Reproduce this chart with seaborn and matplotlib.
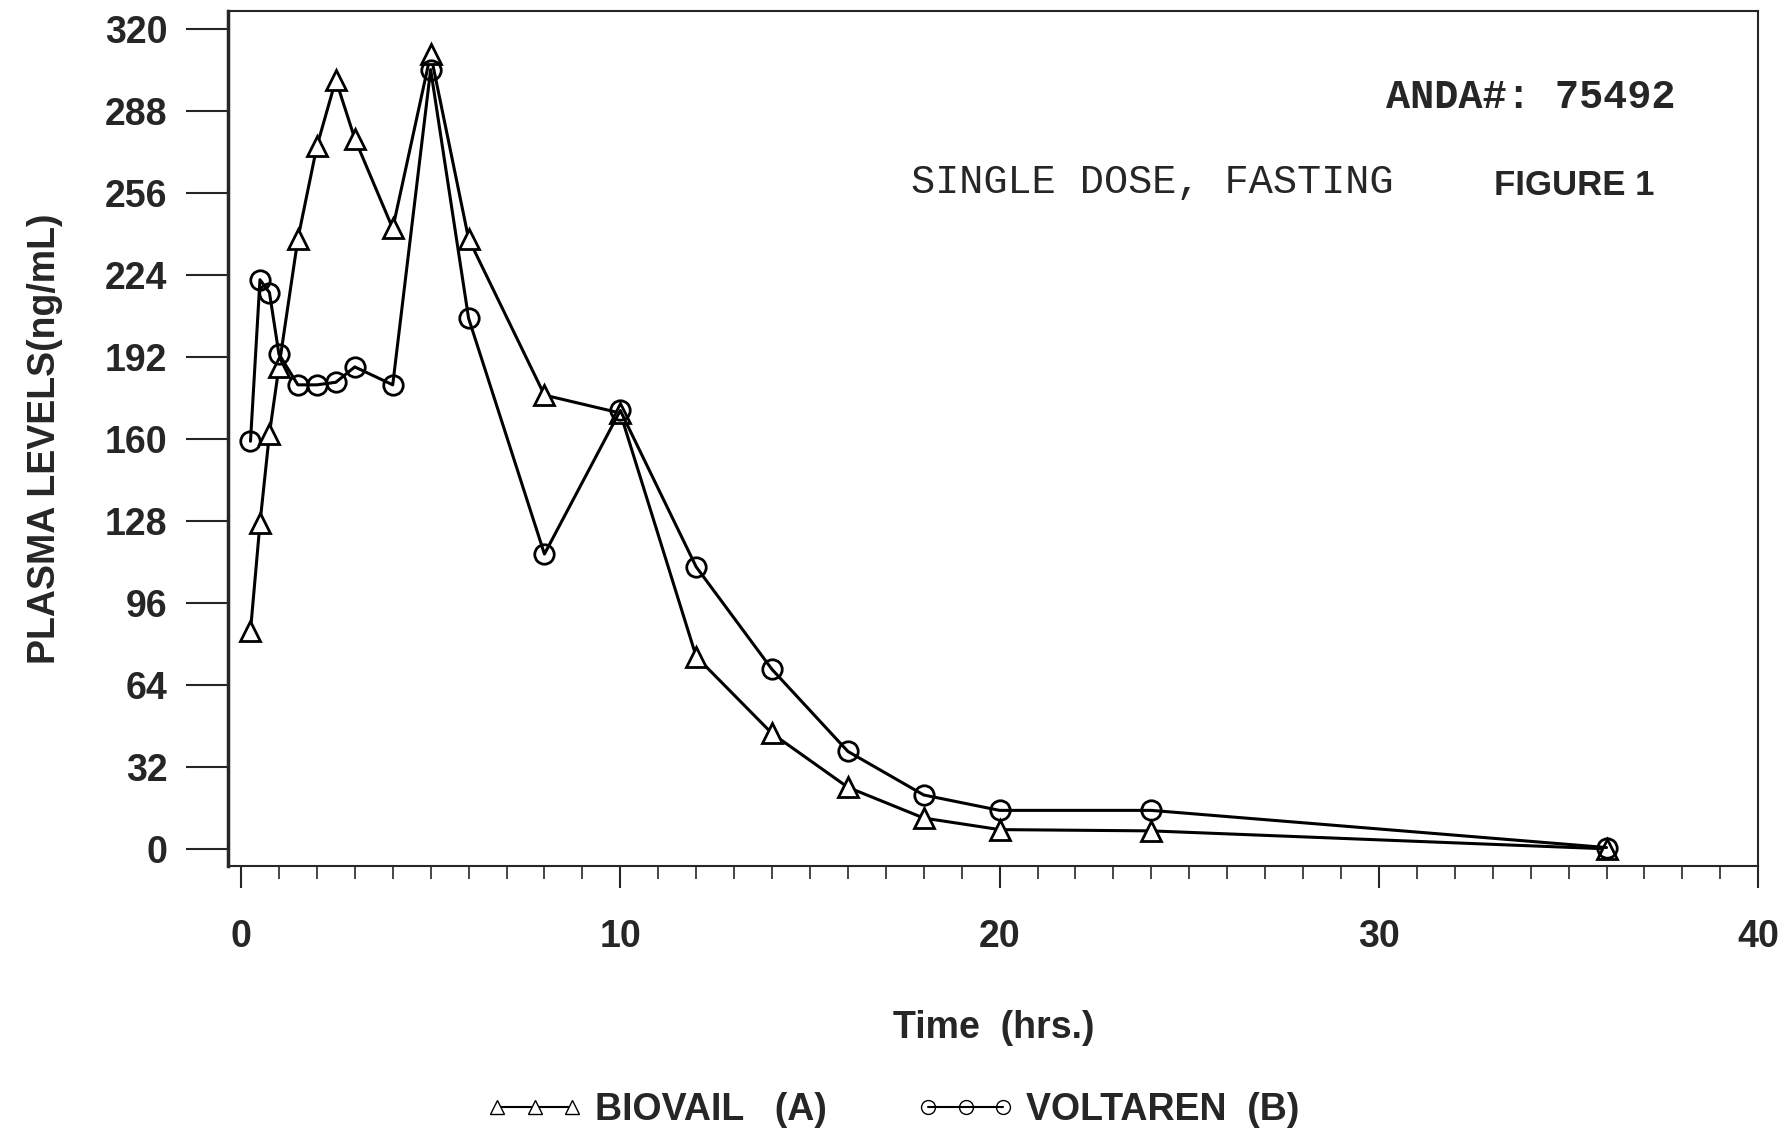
import numpy as np
import pandas as pd
import matplotlib
matplotlib.use("Agg")
import matplotlib.pyplot as plt
from matplotlib.lines import Line2D
from matplotlib.ticker import MultipleLocator
import seaborn as sns

# sampling times (hrs) and plasma levels (ng/mL)
time_hrs = [0.25, 0.5, 0.75, 1, 1.5, 2, 2.5, 3, 4, 5, 6, 8, 10, 12, 14, 16, 18, 20, 24, 36]
biovail = [85, 127, 162, 188, 238, 274, 300, 277, 242, 310, 238, 177, 170, 75, 45, 24, 12, 7.5, 7, 0]
voltaren = [159, 222, 217, 193, 181, 181, 182, 188, 181, 304, 207, 115, 171, 110, 70, 38, 21, 15, 15, 0.5]

y_ticks = [0, 32, 64, 96, 128, 160, 192, 224, 256, 288, 320]
x_ticks = [0, 10, 20, 30, 40]

df_a = pd.DataFrame({"time": time_hrs, "conc": biovail})
df_b = pd.DataFrame({"time": time_hrs, "conc": voltaren})

sns.set_style("ticks")
plt.rcParams["font.family"] = ["Liberation Sans", "DejaVu Sans"]

fig = plt.figure(figsize=(17.85, 11.35), dpi=100)
ax = fig.add_axes([0.128, 0.237, 0.857, 0.753])

sns.lineplot(data=df_a, x="time", y="conc", ax=ax, color="black", linewidth=2.2,
             marker="^", markersize=14, markerfacecolor="white",
             markeredgecolor="black", markeredgewidth=2, legend=False)
sns.lineplot(data=df_b, x="time", y="conc", ax=ax, color="black", linewidth=2.2,
             marker="o", markersize=14, markerfacecolor="none",
             markeredgecolor="black", markeredgewidth=2, legend=False)

ax.set_xlim(-0.33, 40)
ax.set_ylim(-6.7, 326.7)
ax.set_yticks(y_ticks)
ax.set_xticks(x_ticks)
ax.xaxis.set_minor_locator(MultipleLocator(1))
ax.tick_params(axis="y", direction="out", length=30, width=1.5, pad=14,
               labelsize=27)
ax.tick_params(axis="x", which="major", direction="out", length=16, width=1.5,
               pad=22, labelsize=27)
ax.tick_params(axis="x", which="minor", direction="out", length=9, width=1.2)
for lab in ax.get_xticklabels() + ax.get_yticklabels():
    lab.set_fontweight("bold")

for side in ["top", "right", "bottom"]:
    ax.spines[side].set_visible(True)
    ax.spines[side].set_linewidth(1.5)
ax.spines["left"].set_linewidth(2.5)

ax.set_xlabel("Time  (hrs.)", fontsize=27, fontweight="bold", labelpad=40)
ax.set_ylabel("PLASMA LEVELS(ng/mL)", fontsize=27, fontweight="bold", labelpad=30)

ax.text(0.946, 0.90, "ANDA#: 75492", transform=ax.transAxes, ha="right", va="center",
        family="Liberation Mono", fontsize=29, fontweight="bold")
ax.text(0.446, 0.80, "SINGLE DOSE, FASTING", transform=ax.transAxes, ha="left",
        va="center", family="Liberation Mono", fontsize=29)
ax.text(0.827, 0.796, "FIGURE 1", transform=ax.transAxes, ha="left", va="center",
        fontsize=25, fontweight="bold")

handles = [
    Line2D([], [], color="black", linewidth=1.5, marker="^", markersize=10,
           markerfacecolor="white", markeredgecolor="black"),
    Line2D([], [], color="black", linewidth=1.5, marker="o", markersize=10,
           markerfacecolor="none", markeredgecolor="black"),
]
fig.legend(handles, ["BIOVAIL   (A)", "VOLTAREN  (B)"], loc="center",
           bbox_to_anchor=(0.5, 0.022), ncol=2, frameon=False, numpoints=3,
           handlelength=2.6, handletextpad=0.3, columnspacing=2.4,
           prop={"size": 27, "weight": "bold"})

fig.savefig("out.png", dpi=100)
